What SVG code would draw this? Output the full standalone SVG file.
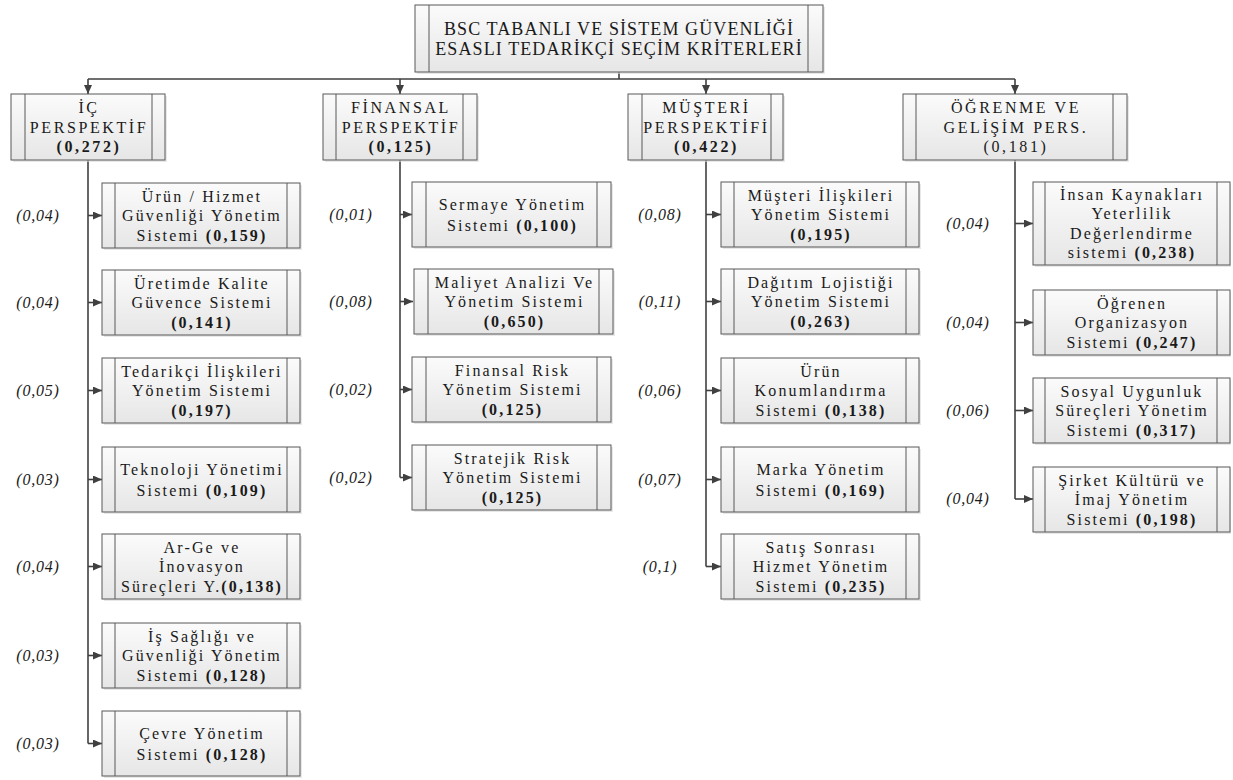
<svg xmlns="http://www.w3.org/2000/svg" width="1233" height="780" viewBox="0 0 1233 780">
<defs>
<linearGradient id="gf" x1="0" y1="0" x2="0" y2="1">
<stop offset="0" stop-color="#fbfbfb"/>
<stop offset="1" stop-color="#e6e6e6"/>
</linearGradient>
<marker id="ah" markerUnits="userSpaceOnUse" markerWidth="9" markerHeight="8" refX="9" refY="4" orient="auto">
<path d="M0,0 L9,4 L0,8 z" fill="#404040"/>
</marker>
<style>
.sh{fill:#d9d9d9;opacity:0.6}
.bx{fill:url(#gf);stroke:#595959;stroke-width:1}
.in{stroke:#595959;stroke-width:1}
.cn{fill:none;stroke:#404040;stroke-width:1.6}
.ar{fill:none;stroke:#404040;stroke-width:1.6;marker-end:url(#ah)}
text{fill:#1a1a1a;text-anchor:middle}
.t{font-size:18px;letter-spacing:1.1px}
.p{font-size:16px;letter-spacing:2.6px}
.c{font-size:16px;letter-spacing:2.15px}
.l{font-size:16px;font-style:italic;letter-spacing:0.8px}
.b{font-weight:bold}
</style>
</defs>
<rect width="1233" height="780" fill="#ffffff"/>

<g id="connectors">
<path class="cn" d="M619,72 V79 M88,79 H1015"/>
<path class="ar" d="M88,79 V94"/>
<path class="ar" d="M400,79 V94"/>
<path class="ar" d="M706,79 V94"/>
<path class="ar" d="M1015,79 V94"/>
<path class="cn" d="M88,160 V743.5"/>
<path class="ar" d="M88,215.5 H102"/>
<path class="ar" d="M88,302.5 H102"/>
<path class="ar" d="M88,390.5 H102"/>
<path class="ar" d="M88,479.5 H102"/>
<path class="ar" d="M88,566.5 H102"/>
<path class="ar" d="M88,655.5 H102"/>
<path class="ar" d="M88,743.5 H102"/>
<path class="cn" d="M400,160 V477.5"/>
<path class="ar" d="M400,214.5 H412"/>
<path class="ar" d="M400,301.5 H413"/>
<path class="ar" d="M400,389.5 H412"/>
<path class="ar" d="M400,477.5 H412"/>
<path class="cn" d="M706,160 V566.5"/>
<path class="ar" d="M706,214.5 H721"/>
<path class="ar" d="M706,301.5 H721"/>
<path class="ar" d="M706,390.5 H721"/>
<path class="ar" d="M706,479.5 H721"/>
<path class="ar" d="M706,566.5 H721"/>
<path class="cn" d="M1015,160 V499"/>
<path class="ar" d="M1015,223.5 H1033"/>
<path class="ar" d="M1015,322.5 H1033"/>
<path class="ar" d="M1015,410.5 H1033"/>
<path class="ar" d="M1015,499 H1033"/>
</g>

<g font-family="'Liberation Serif', 'Times New Roman', serif">
<g id="root">
<rect class="sh" x="417" y="7" width="408" height="67"/>
<rect class="bx" x="415" y="5" width="408" height="67"/>
<line class="in" x1="429" y1="5" x2="429" y2="72"/><line class="in" x1="808" y1="5" x2="808" y2="72"/>
<text class="t" x="619" y="35">BSC TABANLI VE SİSTEM GÜVENLİĞİ</text>
<text class="t" x="619" y="55">ESASLI TEDARİKÇİ SEÇİM KRİTERLERİ</text>
</g>

<g id="p-ic">
<rect class="sh" x="13" y="96" width="154" height="66"/>
<rect class="bx" x="11" y="94" width="154" height="66"/>
<line class="in" x1="25" y1="94" x2="25" y2="160"/><line class="in" x1="152" y1="94" x2="152" y2="160"/>
<text class="p" x="89" y="113">İÇ<tspan x="89" dy="19.5">PERSPEKTİF</tspan><tspan class="b" x="89" dy="19.5">(0,272)</tspan></text>
</g>
<g id="p-fin">
<rect class="sh" x="325" y="96" width="154" height="66"/>
<rect class="bx" x="323" y="94" width="154" height="66"/>
<line class="in" x1="336" y1="94" x2="336" y2="160"/><line class="in" x1="463" y1="94" x2="463" y2="160"/>
<text class="p" x="401" y="113">FİNANSAL<tspan x="401" dy="19.5">PERSPEKTİF</tspan><tspan class="b" x="401" dy="19.5">(0,125)</tspan></text>
</g>
<g id="p-mus">
<rect class="sh" x="630" y="96" width="155" height="66"/>
<rect class="bx" x="628" y="94" width="155" height="66"/>
<line class="in" x1="642" y1="94" x2="642" y2="160"/><line class="in" x1="771" y1="94" x2="771" y2="160"/>
<text class="p" x="706.5" y="113">MÜŞTERİ<tspan x="706.5" dy="19.5">PERSPEKTİFİ</tspan><tspan class="b" x="706.5" dy="19.5">(0,422)</tspan></text>
</g>
<g id="p-ogr">
<rect class="sh" x="905" y="96" width="224" height="66"/>
<rect class="bx" x="903" y="94" width="224" height="66"/>
<line class="in" x1="916" y1="94" x2="916" y2="160"/><line class="in" x1="1113" y1="94" x2="1113" y2="160"/>
<text class="p" x="1016" y="113">ÖĞRENME VE<tspan x="1016" dy="19.5">GELİŞİM PERS.</tspan><tspan x="1016" dy="19.5">(0,181)</tspan></text>
</g>

<g id="c1-1">
<rect class="sh" x="104" y="185" width="198" height="65"/><rect class="bx" x="102" y="183" width="198" height="65"/>
<line class="in" x1="115" y1="183" x2="115" y2="248"/><line class="in" x1="287" y1="183" x2="287" y2="248"/>
<text class="c" x="202" y="201.5">Ürün / Hizmet<tspan x="202" dy="19.5">Güvenliği Yönetim</tspan><tspan x="202" dy="19.5">Sistemi <tspan class="b">(0,159)</tspan></tspan></text>
</g>
<g id="c1-2">
<rect class="sh" x="104" y="272" width="198" height="65"/><rect class="bx" x="102" y="270" width="198" height="65"/>
<line class="in" x1="115" y1="270" x2="115" y2="335"/><line class="in" x1="287" y1="270" x2="287" y2="335"/>
<text class="c" x="202" y="288.5">Üretimde Kalite<tspan x="202" dy="19.5">Güvence Sistemi</tspan><tspan class="b" x="202" dy="19.5">(0,141)</tspan></text>
</g>
<g id="c1-3">
<rect class="sh" x="104" y="360" width="198" height="65"/><rect class="bx" x="102" y="358" width="198" height="65"/>
<line class="in" x1="115" y1="358" x2="115" y2="423"/><line class="in" x1="287" y1="358" x2="287" y2="423"/>
<text class="c" x="202" y="376.5">Tedarikçi İlişkileri<tspan x="202" dy="19.5">Yönetim Sistemi</tspan><tspan class="b" x="202" dy="19.5">(0,197)</tspan></text>
</g>
<g id="c1-4">
<rect class="sh" x="104" y="449" width="198" height="65"/><rect class="bx" x="102" y="447" width="198" height="65"/>
<line class="in" x1="115" y1="447" x2="115" y2="512"/><line class="in" x1="287" y1="447" x2="287" y2="512"/>
<text class="c" x="202" y="475.25">Teknoloji Yönetimi<tspan x="202" dy="20.5">Sistemi <tspan class="b">(0,109)</tspan></tspan></text>
</g>
<g id="c1-5">
<rect class="sh" x="104" y="536" width="198" height="65"/><rect class="bx" x="102" y="534" width="198" height="65"/>
<line class="in" x1="115" y1="534" x2="115" y2="599"/><line class="in" x1="287" y1="534" x2="287" y2="599"/>
<text class="c" x="202" y="552.5">Ar-Ge ve<tspan x="202" dy="19.5">İnovasyon</tspan><tspan x="202" dy="19.5">Süreçleri Y.<tspan class="b">(0,138)</tspan></tspan></text>
</g>
<g id="c1-6">
<rect class="sh" x="104" y="625" width="198" height="65"/><rect class="bx" x="102" y="623" width="198" height="65"/>
<line class="in" x1="115" y1="623" x2="115" y2="688"/><line class="in" x1="287" y1="623" x2="287" y2="688"/>
<text class="c" x="202" y="641.5">İş Sağlığı ve<tspan x="202" dy="19.5">Güvenliği Yönetim</tspan><tspan x="202" dy="19.5">Sistemi <tspan class="b">(0,128)</tspan></tspan></text>
</g>
<g id="c1-7">
<rect class="sh" x="104" y="713" width="198" height="65"/><rect class="bx" x="102" y="711" width="198" height="65"/>
<line class="in" x1="115" y1="711" x2="115" y2="776"/><line class="in" x1="287" y1="711" x2="287" y2="776"/>
<text class="c" x="202" y="739.25">Çevre Yönetim<tspan x="202" dy="20.5">Sistemi <tspan class="b">(0,128)</tspan></tspan></text>
</g>

<g id="c2-1">
<rect class="sh" x="414" y="184" width="199" height="65"/><rect class="bx" x="412" y="182" width="199" height="65"/>
<line class="in" x1="426" y1="182" x2="426" y2="247"/><line class="in" x1="597" y1="182" x2="597" y2="247"/>
<text class="c" x="512.5" y="210.25">Sermaye Yönetim<tspan x="512.5" dy="20.5">Sistemi <tspan class="b">(0,100)</tspan></tspan></text>
</g>
<g id="c2-2">
<rect class="sh" x="416" y="271" width="199" height="65"/><rect class="bx" x="414" y="269" width="199" height="65"/>
<line class="in" x1="428" y1="269" x2="428" y2="334"/><line class="in" x1="599" y1="269" x2="599" y2="334"/>
<text class="c" x="514.5" y="287.5">Maliyet Analizi Ve<tspan x="514.5" dy="19.5">Yönetim Sistemi</tspan><tspan class="b" x="514.5" dy="19.5">(0,650)</tspan></text>
</g>
<g id="c2-3">
<rect class="sh" x="414" y="359" width="199" height="65"/><rect class="bx" x="412" y="357" width="199" height="65"/>
<line class="in" x1="426" y1="357" x2="426" y2="422"/><line class="in" x1="597" y1="357" x2="597" y2="422"/>
<text class="c" x="512.5" y="375.5">Finansal Risk<tspan x="512.5" dy="19.5">Yönetim Sistemi</tspan><tspan class="b" x="512.5" dy="19.5">(0,125)</tspan></text>
</g>
<g id="c2-4">
<rect class="sh" x="414" y="447" width="199" height="65"/><rect class="bx" x="412" y="445" width="199" height="65"/>
<line class="in" x1="426" y1="445" x2="426" y2="510"/><line class="in" x1="597" y1="445" x2="597" y2="510"/>
<text class="c" x="512.5" y="463.5">Stratejik Risk<tspan x="512.5" dy="19.5">Yönetim Sistemi</tspan><tspan class="b" x="512.5" dy="19.5">(0,125)</tspan></text>
</g>

<g id="c3-1">
<rect class="sh" x="723" y="184" width="198" height="65"/><rect class="bx" x="721" y="182" width="198" height="65"/>
<line class="in" x1="734" y1="182" x2="734" y2="247"/><line class="in" x1="906" y1="182" x2="906" y2="247"/>
<text class="c" x="821" y="200.5">Müşteri İlişkileri<tspan x="821" dy="19.5">Yönetim Sistemi</tspan><tspan class="b" x="821" dy="19.5">(0,195)</tspan></text>
</g>
<g id="c3-2">
<rect class="sh" x="723" y="271" width="198" height="65"/><rect class="bx" x="721" y="269" width="198" height="65"/>
<line class="in" x1="734" y1="269" x2="734" y2="334"/><line class="in" x1="906" y1="269" x2="906" y2="334"/>
<text class="c" x="821" y="287.5">Dağıtım Lojistiği<tspan x="821" dy="19.5">Yönetim Sistemi</tspan><tspan class="b" x="821" dy="19.5">(0,263)</tspan></text>
</g>
<g id="c3-3">
<rect class="sh" x="723" y="360" width="198" height="65"/><rect class="bx" x="721" y="358" width="198" height="65"/>
<line class="in" x1="734" y1="358" x2="734" y2="423"/><line class="in" x1="906" y1="358" x2="906" y2="423"/>
<text class="c" x="821" y="376.5">Ürün<tspan x="821" dy="19.5">Konumlandırma</tspan><tspan x="821" dy="19.5">Sistemi <tspan class="b">(0,138)</tspan></tspan></text>
</g>
<g id="c3-4">
<rect class="sh" x="723" y="449" width="198" height="65"/><rect class="bx" x="721" y="447" width="198" height="65"/>
<line class="in" x1="734" y1="447" x2="734" y2="512"/><line class="in" x1="906" y1="447" x2="906" y2="512"/>
<text class="c" x="821" y="475.25">Marka Yönetim<tspan x="821" dy="20.5">Sistemi <tspan class="b">(0,169)</tspan></tspan></text>
</g>
<g id="c3-5">
<rect class="sh" x="723" y="536" width="198" height="65"/><rect class="bx" x="721" y="534" width="198" height="65"/>
<line class="in" x1="734" y1="534" x2="734" y2="599"/><line class="in" x1="906" y1="534" x2="906" y2="599"/>
<text class="c" x="821" y="552.5">Satış Sonrası<tspan x="821" dy="19.5">Hizmet Yönetim</tspan><tspan x="821" dy="19.5">Sistemi <tspan class="b">(0,235)</tspan></tspan></text>
</g>

<g id="c4-1">
<rect class="sh" x="1035" y="184" width="196" height="83"/><rect class="bx" x="1033" y="182" width="197" height="83"/>
<line class="in" x1="1045" y1="182" x2="1045" y2="265"/><line class="in" x1="1217" y1="182" x2="1217" y2="265"/>
<text class="c" x="1132" y="199.75">İnsan Kaynakları<tspan x="1132" dy="19.5">Yeterlilik</tspan><tspan x="1132" dy="19.5">Değerlendirme</tspan><tspan x="1132" dy="19.5">sistemi <tspan class="b">(0,238)</tspan></tspan></text>
</g>
<g id="c4-2">
<rect class="sh" x="1035" y="292" width="196" height="65"/><rect class="bx" x="1033" y="290" width="197" height="65"/>
<line class="in" x1="1045" y1="290" x2="1045" y2="355"/><line class="in" x1="1217" y1="290" x2="1217" y2="355"/>
<text class="c" x="1132" y="308.5">Öğrenen<tspan x="1132" dy="19.5">Organizasyon</tspan><tspan x="1132" dy="19.5">Sistemi <tspan class="b">(0,247)</tspan></tspan></text>
</g>
<g id="c4-3">
<rect class="sh" x="1035" y="380" width="196" height="65"/><rect class="bx" x="1033" y="378" width="197" height="65"/>
<line class="in" x1="1045" y1="378" x2="1045" y2="443"/><line class="in" x1="1217" y1="378" x2="1217" y2="443"/>
<text class="c" x="1132" y="396.5">Sosyal Uygunluk<tspan x="1132" dy="19.5">Süreçleri Yönetim</tspan><tspan x="1132" dy="19.5">Sistemi <tspan class="b">(0,317)</tspan></tspan></text>
</g>
<g id="c4-4">
<rect class="sh" x="1035" y="469" width="196" height="65"/><rect class="bx" x="1033" y="467" width="197" height="65"/>
<line class="in" x1="1045" y1="467" x2="1045" y2="532"/><line class="in" x1="1217" y1="467" x2="1217" y2="532"/>
<text class="c" x="1132" y="485.5">Şirket Kültürü ve<tspan x="1132" dy="19.5">İmaj Yönetim</tspan><tspan x="1132" dy="19.5">Sistemi <tspan class="b">(0,198)</tspan></tspan></text>
</g>

<g id="labels">
<text class="l" x="38" y="221">(0,04)</text>
<text class="l" x="38" y="308">(0,04)</text>
<text class="l" x="38" y="396">(0,05)</text>
<text class="l" x="38" y="485">(0,03)</text>
<text class="l" x="38" y="572">(0,04)</text>
<text class="l" x="38" y="661">(0,03)</text>
<text class="l" x="38" y="749">(0,03)</text>
<text class="l" x="351" y="220">(0,01)</text>
<text class="l" x="351" y="307">(0,08)</text>
<text class="l" x="351" y="395">(0,02)</text>
<text class="l" x="351" y="483">(0,02)</text>
<text class="l" x="660" y="220">(0,08)</text>
<text class="l" x="660" y="307">(0,11)</text>
<text class="l" x="660" y="396">(0,06)</text>
<text class="l" x="660" y="485">(0,07)</text>
<text class="l" x="660" y="572">(0,1)</text>
<text class="l" x="968" y="229">(0,04)</text>
<text class="l" x="968" y="328">(0,04)</text>
<text class="l" x="968" y="416">(0,06)</text>
<text class="l" x="968" y="504">(0,04)</text>
</g>
</g>
</svg>
